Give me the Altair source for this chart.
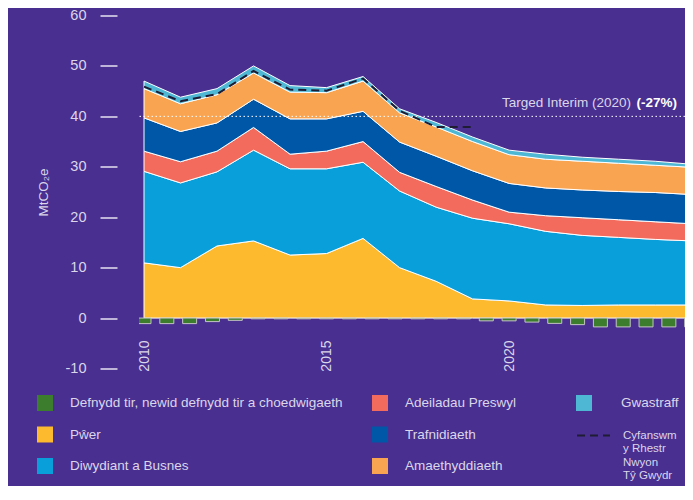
import json
import altair as alt
import pandas as pd

# ---------------- data ----------------
years = list(range(2010, 2026))
power = [10.95, 10.0, 14.3, 15.3, 12.5, 12.8, 15.8, 10.0, 7.3, 3.8, 3.4, 2.6, 2.5, 2.6, 2.6, 2.6]
industry = [18.15, 16.8, 14.7, 18.0, 17.1, 16.8, 15.1, 15.2, 14.7, 16.0, 15.3, 14.6, 13.9, 13.4, 13.0, 12.7]
residential = [4.0, 4.2, 4.1, 4.5, 2.9, 3.5, 4.1, 3.7, 4.1, 3.6, 2.3, 3.1, 3.5, 3.5, 3.5, 3.4]
transport = [6.6, 6.0, 5.6, 5.6, 7.0, 6.4, 6.0, 6.0, 6.0, 5.8, 5.7, 5.5, 5.5, 5.6, 5.8, 5.8]
agriculture = [5.8, 5.5, 5.6, 5.2, 5.3, 5.2, 6.0, 5.8, 5.8, 5.8, 5.7, 5.7, 5.7, 5.6, 5.4, 5.4]
waste = [1.5, 1.3, 1.2, 1.4, 1.3, 1.0, 0.9, 0.8, 0.9, 0.9, 0.9, 1.0, 0.8, 0.8, 0.8, 0.6]

# land use (negative), one bar every 5/8 of a year starting 2010
land_start = 2010
land_step = 0.625
land_use = [-1.1, -1.1, -1.1, -0.7, -0.45, -0.15, -0.15, -0.15, -0.15, -0.15,
            -0.15, -0.15, -0.15, -0.15, -0.15, -0.55, -0.55, -0.8, -1.05, -1.3,
            -1.75, -1.75, -1.75, -1.75, -1.75]

total_years = list(range(2010, 2020))
total = [45.9, 43.0, 44.4, 49.0, 45.3, 45.1, 47.5, 41.1, 37.9, 37.9]

target_value = 40
target_label_x = 2024.6
target_text = "Targed Interim (2020)"
target_pct = "(-27%)"

n_land = "Defnydd tir, newid defnydd tir a choedwigaeth"
n_power = "Pŵer"
n_industry = "Diwydiant a Busnes"
n_resid = "Adeiladau Preswyl"
n_transport = "Trafnidiaeth"
n_agri = "Amaethyddiaeth"
n_waste = "Gwastraff"
total_lines = ["Cyfanswm", "y Rhestr", "Nwyon", "Tŷ Gwydr"]
n_total = " ".join(total_lines)

stack_names = [n_power, n_industry, n_resid, n_transport, n_agri]
stack_values = [power, industry, residential, transport, agriculture]

# ---------------- styles ----------------
BG = "#482f90"
TXT = "#dcd6ea"
FONT = "Liberation Sans"
NARROW = "Liberation Sans Narrow, Liberation Sans"
color_domain = [n_land, n_power, n_industry, n_resid, n_transport, n_agri]
color_range = ["#3b7d2d", "#fdba2e", "#089fdb", "#f26b5c", "#0057a8", "#f9a450"]
waste_color = "#4db7d4"

# ---------------- tables ----------------
rows = []
for rank, (name, vals) in enumerate(zip(stack_names, stack_values)):
    for y, v in zip(years, vals):
        rows.append({"year": y, "value": v, "sector": name, "rank": rank})
stack_df = pd.DataFrame(rows)

base_sum = [sum(v[i] for v in stack_values) for i in range(len(years))]
waste_df = pd.DataFrame({
    "year": years,
    "bottom": base_sum,
    "top": [b + w for b, w in zip(base_sum, waste)],
    "sector": n_waste,
})

land_df = pd.DataFrame({
    "year": [land_start + land_step * i for i in range(len(land_use))],
    "value": land_use,
    "sector": n_land,
})

total_df = pd.DataFrame({"year": total_years, "value": total, "name": n_total})
target_df = pd.DataFrame({"year": [target_label_x], "value": [target_value],
                          "a": [target_text], "b": [target_pct]})

# ---------------- encodings ----------------
YTITLE = "MtCO₂e"
xscale = alt.Scale(domain=[2010, 2024.68], nice=False, zero=False)
yscale = alt.Scale(domain=[-10, 60], nice=False)

xaxis = alt.Axis(values=[2010, 2015, 2020], format="d", labelAngle=-90,
                 ticks=False, domain=False, grid=False, offset=-30, labelPadding=1.5,
                 labelFont=NARROW, labelFontSize=14, labelColor=TXT)
yaxis = alt.Axis(values=list(range(-10, 61, 10)), domain=False, grid=False,
                 tickColor="white", tickSize=17, tickWidth=1.3, offset=22,
                 labelPadding=14, labelFont=FONT, labelFontSize=14.5, labelColor=TXT,
                 labelExpr="'' + datum.value",
                 title=YTITLE, titleFont=FONT, titleFontSize=13.5, titleFontWeight="normal",
                 titleColor=TXT, titlePadding=15)


def X(field):
    return alt.X(field, type="quantitative", scale=xscale, axis=xaxis, title=None)


def Y(field):
    return alt.Y(field, type="quantitative", scale=yscale, axis=yaxis, title=YTITLE)


color_enc = alt.Color(
    "sector:N",
    scale=alt.Scale(domain=color_domain, range=color_range),
    legend=alt.Legend(
        title=None, orient="none", legendX=-102, legendY=379.5,
        values=[n_land, n_power, n_industry, n_resid, n_transport, n_agri],
        columns=2, columnPadding=29, rowPadding=15.5, labelOffset=17,
        symbolType="square", symbolSize=256, symbolStrokeWidth=0,
        labelFont=FONT, labelFontSize=13.5, labelColor=TXT, labelLimit=400, padding=0,
    ),
)

areas = alt.Chart(stack_df).mark_area(stroke="white", strokeWidth=1, clip=True).encode(
    x=X("year"),
    y=alt.Y("value:Q", stack="zero", scale=yscale, axis=yaxis, title=YTITLE),
    color=color_enc,
    order=alt.Order("rank:Q"),
)

waste_area = alt.Chart(waste_df).mark_area(stroke="white", strokeWidth=1, clip=True).encode(
    x=X("year"),
    y=Y("top"),
    y2="bottom:Q",
    fill=alt.Fill(
        "sector:N",
        scale=alt.Scale(domain=[n_waste], range=[waste_color]),
        legend=alt.Legend(
            title=None, orient="none", legendX=437, legendY=379.5,
            labelOffset=29, symbolType="square", symbolSize=256, symbolStrokeWidth=0,
            labelFont=FONT, labelFontSize=13.5, labelColor=TXT, padding=0,
        ),
    ),
)

bars = alt.Chart(land_df).mark_bar(size=14, stroke="#c4c4c4", strokeWidth=1, clip=True).encode(
    x=X("year"),
    y=Y("value"),
    color=color_enc,
)

target_rule = alt.Chart(target_df).mark_rule(
    color="white", strokeWidth=1, strokeDash=[1.5, 2.5]
).encode(y=Y("value"))

target_a = alt.Chart(target_df).mark_text(
    align="right", baseline="alphabetic", dx=-46, dy=-9.5,
    font=FONT, fontSize=13.5, color=TXT,
).encode(x=X("year"), y=Y("value"), text="a:N")

target_b = alt.Chart(target_df).mark_text(
    align="right", baseline="alphabetic", dy=-9.5,
    font=FONT, fontSize=13.5, fontWeight="bold", color="white",
).encode(x=X("year"), y=Y("value"), text="b:N")

total_line = alt.Chart(total_df).mark_line(color="#1f1d33", strokeWidth=2, clip=True).encode(
    x=X("year"),
    y=Y("value"),
    strokeDash=alt.StrokeDash(
        "name:N",
        scale=alt.Scale(domain=[n_total], range=[[8, 5]]),
        legend=alt.Legend(
            title=None, orient="none", legendX=437, legendY=402.5,
            symbolType="stroke", symbolSize=1089, symbolStrokeColor="#1f1d33",
            symbolStrokeWidth=2, labelOffset=12,
            labelExpr=json.dumps(total_lines, ensure_ascii=False),
            labelFont=FONT, labelFontSize=11.5, labelColor=TXT, padding=0,
        ),
    ),
)

chart = alt.layer(
    areas, waste_area, bars, target_rule, target_a, target_b, total_line
).properties(
    width=546,
    height=353,
    autosize=alt.AutoSizeParams(type="none"),
    padding={"left": 131, "top": 7.5, "right": 0, "bottom": 117.5},
    background=BG,
).configure_view(stroke=None)

chart.save("out.html", embed_options={"renderer": "svg", "actions": False})
